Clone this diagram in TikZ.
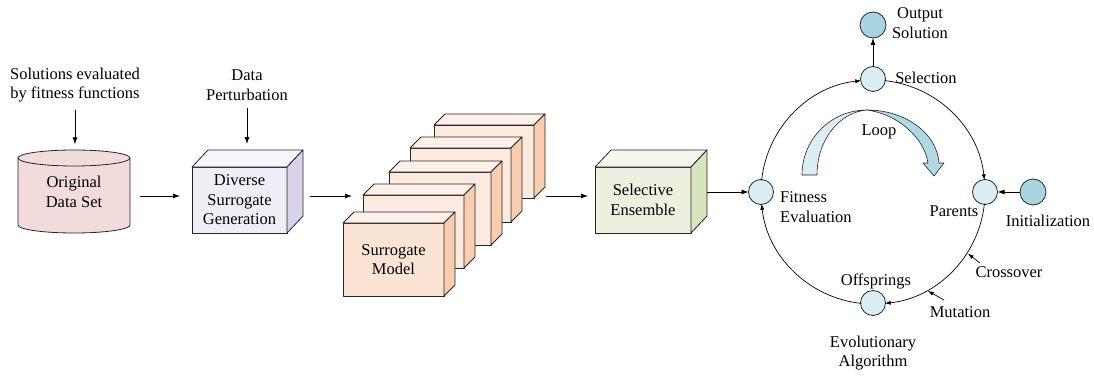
\documentclass[tikz,border=0pt]{standalone}
\usepackage{fontspec}
\setmainfont{Liberation Serif}
\usetikzlibrary{arrows.meta,calc}
\definecolor{pinkc}{HTML}{F2DCDB}
\definecolor{lavfront}{HTML}{EFEEF6}
\definecolor{lavtop}{HTML}{F6F5FA}
\definecolor{lavside}{HTML}{D9D2E8}
\definecolor{peachfront}{HTML}{FDEADF}
\definecolor{peachfrontA}{HTML}{FCE4D5}
\definecolor{peachtop}{HTML}{FDF1EA}
\definecolor{peachside}{HTML}{F9CDAE}
\definecolor{grnfront}{HTML}{EBF1DE}
\definecolor{grntop}{HTML}{F3F7EC}
\definecolor{grnside}{HTML}{D7E4BD}
\definecolor{cirlight}{HTML}{DAEEF3}
\definecolor{cirdark}{HTML}{A9D5E1}
\definecolor{loopdark}{HTML}{B0D9E3}
\newcommand{\drawcube}[5]{%
  \draw[boxline,fill=#4] (#1.north west) -- ($(#1.north west)+(#2,-#3)$) -- ($(#1.north east)+(#2,-#3)$) -- (#1.north east) -- cycle;
  \draw[boxline,fill=#5] (#1.north east) -- ($(#1.north east)+(#2,-#3)$) -- ($(#1.south east)+(#2,-#3)$) -- (#1.south east) -- cycle;
}
\tikzset{
  boxline/.style={draw=black!85, line width=0.8pt, line join=round},
  cubebox/.style={boxline, rectangle, outer sep=0pt, inner sep=2pt, align=center},
  txt/.style={inner sep=2pt, align=center},
  arr/.style={draw=black, line width=0.8pt, -{Latex[length=7pt,width=5pt]}},
  arrs/.style={draw=black, line width=0.7pt, -{Latex[length=6pt,width=4pt]}},
  pop/.style={circle, draw=black!85, line width=0.8pt, fill=cirlight, minimum size=25pt, inner sep=0pt, outer sep=0pt},
  popdark/.style={pop, fill=cirdark, minimum size=26pt},
  every node/.style={font=\fontsize{16.5}{19.5}\selectfont}
}
\begin{document}
\begin{tikzpicture}[x=1pt,y=-1pt]
\useasboundingbox (0,0) rectangle (1094,377);

% ---- left part ----
\node[txt] (sol) at (75,85) {Solutions evaluated\\by fitness functions};
\draw[boxline,fill=pinkc] (18,158) -- (18,225) .. controls (18,229.4) and (43,233) .. (74,233) .. controls (105,233) and (130,229.4) .. (130,225) -- (130,158) -- cycle;
\draw[boxline,fill=pinkc] (74,158) ellipse [x radius=56, y radius=8];
\node[txt, minimum width=112pt, minimum height=83pt] (orig) at (74,192) {Original\\Data Set};
\draw[arr, shorten <=6pt, shorten >=6pt] (sol) -- (sol |- orig.north);

\node[txt] (dp) at (247,85) {Data\\Perturbation};
\node[cubebox, fill=lavfront, minimum width=95pt, minimum height=66pt] (div) at (239.5,200) {Diverse\\Surrogate\\Generation};
\drawcube{div}{16}{17}{lavtop}{lavside}
\coordinate (dpt) at (247,144);
\draw[arr, shorten <=6pt] (dp) -- (dpt);

\draw[arr] ($(orig.east)+(10,4)$) -- ($(div.west)+(-12,-4)$);

% ---- stack of surrogate models ----
\node[cubebox, fill=peachfront, minimum width=100pt, minimum height=73pt] (b5) at (484,161.5) {};
\drawcube{b5}{11}{11}{peachtop}{peachside}
\node[cubebox, fill=peachfront, minimum width=101pt, minimum height=74pt] (b4) at (460.5,185) {};
\drawcube{b4}{11}{11}{peachtop}{peachside}
\node[cubebox, fill=peachfront, minimum width=102pt, minimum height=73pt] (b3) at (440,208.5) {};
\drawcube{b3}{11}{11}{peachtop}{peachside}
\node[cubebox, fill=peachfront, minimum width=101pt, minimum height=73pt] (b2) at (413.5,231.5) {};
\drawcube{b2}{11}{11}{peachtop}{peachside}
\node[cubebox, fill=peachfrontA, minimum width=101pt, minimum height=73pt] (b1) at (393.5,259.5) {Surrogate\\Model};
\drawcube{b1}{11}{11}{peachtop}{peachside}

\draw[arr] ($(div.east)+(23,-4)$) -- ($(b2.west)+(-11,-35.5)$);

% ---- selective ensemble ----
\node[cubebox, fill=grnfront, minimum width=96pt, minimum height=66pt] (selens) at (643,200) {Selective\\Ensemble};
\drawcube{selens}{16}{17}{grntop}{grnside}
\draw[arr] ($(b5.east)+(12,34.5)$) -- ($(selens.west)+(-7,-4)$);

% ---- evolutionary algorithm ----
\coordinate (C) at (873,192);
\node[pop] (sel) at (873,79) {};
\node[pop] (fit) at (761,192) {};
\node[pop] (par) at (985,192) {};
\node[pop] (off) at (873,303) {};
\node[popdark] (out) at (873,25) {};
\node[popdark] (init) at (1033,192) {};

\draw[arr] ($(selens.east)+(16,-8)$) -- (fit.west);

\draw[arrs] ($(C)+(-174:112)$) arc[start angle=-174, end angle=-96, radius=112];
\draw[arrs] ($(C)+(-84:112)$) arc[start angle=-84, end angle=-6, radius=112];
\draw[arrs] ($(C)+(6:112)$) arc[start angle=6, end angle=84, radius=112];
\draw[arrs] ($(C)+(96:112)$) arc[start angle=96, end angle=174, radius=112];

\draw[arr] (sel) -- (out);
\draw[arr] (init) -- (par);

% loop arrow
\fill[cirlight, draw=black!85, line width=0.6pt, line join=round] (802,175) .. controls (802,139) and (831,110) .. (867,110) .. controls (839.4,112) and (817,140) .. (817,175) -- cycle;
\fill[loopdark, draw=black!85, line width=0.6pt, line join=round] (867,110) .. controls (905,110) and (937,133) .. (939,163) -- (944,163) -- (934,176) -- (923,163) -- (928,163) .. controls (924,137) and (897,114) .. (867,110) -- cycle;
\node[txt] (loop) at (879,132) {Loop};

% labels
\node[txt] (outl) at (920,23) {Output\\Solution};
\node[txt] (sell) at (926,78) {Selection};
\node[txt, align=left, anchor=west] (fitl) at (778,207) {Fitness\\Evaluation};
\node[txt] (parl) at (954,211) {Parents};
\node[txt] (initl) at (1048,221) {Initialization};
\node[txt] (crossl) at (1009,272) {Crossover};
\node[txt] (mutl) at (960,312) {Mutation};
\node[txt] (offl) at (876,281) {Offsprings};
\node[txt] (eal) at (873,353) {Evolutionary\\Algorithm};

\coordinate (cxa) at (980,263);
\coordinate (cxb) at ($(C)+(33:113)$);
\draw[arrs] (cxa) -- (cxb);
\coordinate (mua) at (944,300);
\coordinate (mub) at ($(C)+(61:113)$);
\draw[arrs] (mua) -- (mub);
\end{tikzpicture}
\end{document}
